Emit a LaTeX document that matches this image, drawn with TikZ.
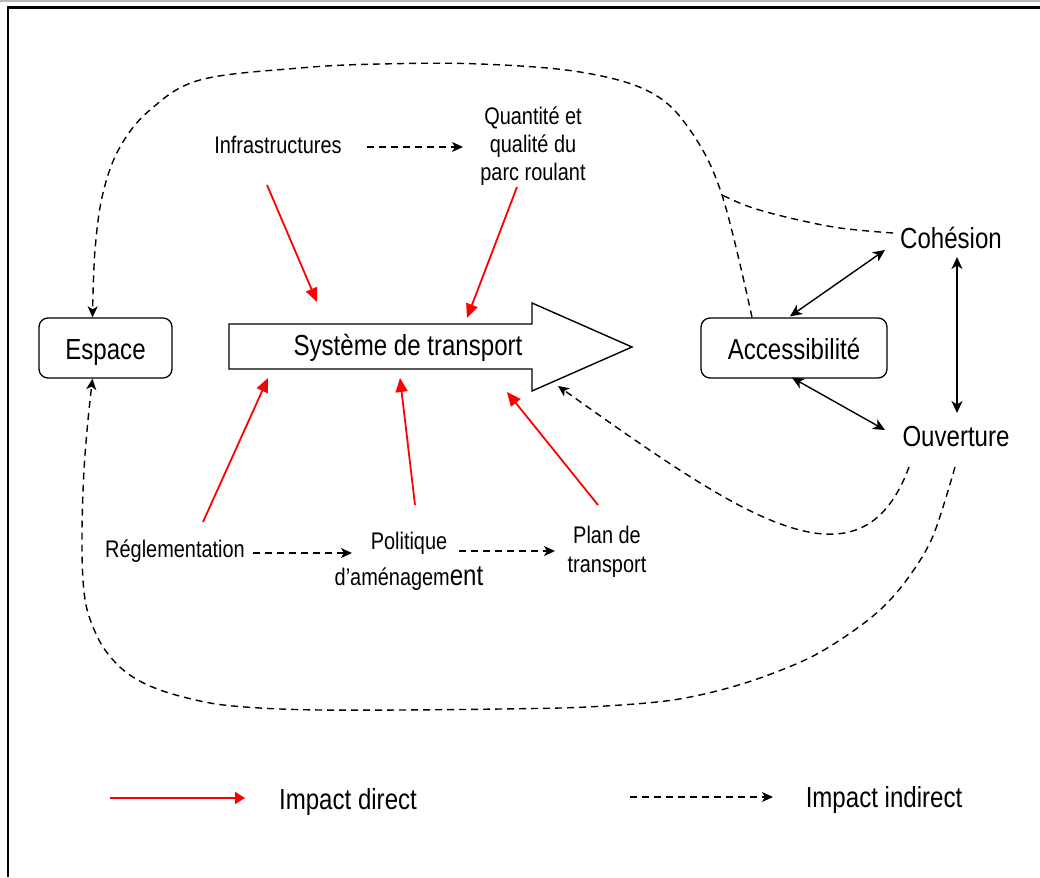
\documentclass[tikz,border=0pt]{standalone}
\usepackage{fontspec}
\newfontfamily\nar{Liberation Sans}[FakeStretch=0.83]
\usetikzlibrary{arrows.meta,calc}
\tikzset{
  big/.style={font=\nar\fontsize{29}{33}\selectfont, inner sep=2pt},
  small/.style={font=\nar\fontsize{24}{28}\selectfont, align=center, inner sep=2pt},
  boxed/.style={big, draw, line width=1.3pt, rounded corners=9pt, minimum height=60pt, text height=26pt, text depth=2.3pt},
  direct/.style={red, line width=1.8pt, -{Triangle[length=14pt,width=12pt]}},
  indirect/.style={black, line width=1.4pt, dash pattern=on 7pt off 5pt, -{Stealth[length=11pt,width=10pt,inset=3pt]}},
  indline/.style={black, line width=1.4pt, dash pattern=on 7pt off 5pt},
  both/.style={black, line width=1.4pt, {Stealth[length=12pt,width=11pt,inset=3.5pt]}-{Stealth[length=12pt,width=11pt,inset=3.5pt]}}
}
\begin{document}
\begin{tikzpicture}[x=1pt,y=-1pt]
\useasboundingbox (0,0) rectangle (1040,877);
% frame
\draw[gray!55, line width=1.6pt] (0,0.8) -- (1040,0.8);
\draw[black, line width=2.2pt] (7.8,877) -- (7.8,7.6) -- (1040,7.6);

% transport system arrow
\draw[line width=1.4pt, fill=white] (229,324) -- (532,324) -- (532,303) -- (632,347) -- (532,391) -- (532,369) -- (229,369) -- cycle;
\node[big] (sys) at (408,348) {Système de transport};

% nodes
\node[boxed, minimum width=133pt] (espace) at (105.5,348) {Espace};
\node[boxed, minimum width=186pt] (acc) at (794,348) {Accessibilité};
\node[big] (coh) at (951,237.5) {Cohésion};
\node[big] (ouv) at (956,437) {Ouverture};
\node[small] (infra) at (278,145) {Infrastructures};
\node[small] (quant) at (533,146) {Quantité et\\qualité du\\parc roulant};
\node[small] (regl) at (175,551) {Réglementation};
\node[small] (pol) at (409,561) {Politique\\[8pt]d’aménagem{\fontsize{29}{33}\selectfont ent}};
\node[small, font=\nar\fontsize{24}{29}\selectfont] (plan) at (607,551.5) {Plan de\\transport};

% direct impacts
\draw[direct] ($(infra)+(-11,40)$) -- ($(sys)+(-91,-46)$);
\draw[direct] ($(quant)+(-16,41)$) -- ($(sys)+(59,-30)$);
\draw[direct] ($(regl)+(28,-29)$) -- ($(sys)+(-140,30)$);
\draw[direct] ($(pol)+(6,-56)$) -- ($(sys)+(-8,30)$);
\draw[direct] ($(plan)+(-9,-46.5)$) -- ($(sys)+(99,44)$);

% indirect straight
\draw[indirect] ($(infra)+(89,2)$) -- ($(quant)+(-70,1)$);
\draw[indirect] ($(regl)+(78,2)$) -- ($(pol)+(-57,-8)$);
\draw[indirect] ($(pol)+(50,-10)$) -- ($(plan)+(-52,-0.5)$);

% double arrows
\draw[both] ($(acc.north)+(-4,-1)$) -- ($(coh)+(-66,12.5)$);
\draw[both] ($(acc.south)+(-2,-1)$) -- ($(ouv)+(-71,-7)$);
\draw[both] ($(coh)+(6,19.5)$) -- ($(ouv)+(1,-24)$);

% curved indirect
\coordinate (topS) at ($(acc.north)+(-42,0)$);
\coordinate (topE) at ($(espace.north)+(-13,0)$);
\coordinate (kink) at (722,195);
\coordinate (cohS) at ($(coh)+(-58,-4.5)$);
\coordinate (botS) at ($(ouv)+(-1,30)$);
\coordinate (botE) at ($(espace.south)+(-13,0)$);
\coordinate (midS) at ($(ouv)+(-47,30)$);
\coordinate (midE) at ($(sys)+(150,38)$);

\draw[indirect] plot[smooth, tension=0.6] coordinates {(topS) (kink) (690,130) (650,92) (580,72) (480,64) (380,64) (300,68) (200,80) (150,110) (120,147) (103,193) (95,250) (topE)};
\draw[indline] plot[smooth, tension=0.6] coordinates {(cohS) (840,228) (790,218) (750,207) (kink)};
\draw[indirect] plot[smooth, tension=0.55] coordinates {(botS) (933,536) (908,578) (881,609) (846,636) (805,660) (742,684) (673,700) (587,707) (500,709) (400,710) (320,710) (260,708) (210,703) (160,690) (127,673) (103,647) (88,613) (83,580) (82,530) (84,470) (88,420) (botE)};
\draw[indirect] (midS) .. controls (860,600) and (740,515) .. (midE);

% legend
\coordinate (la) at (110,798);
\coordinate (lb) at (245,798);
\coordinate (lc) at (630,797);
\coordinate (ld) at (773,797);
\node[big] (ldir) at (348,802) {Impact direct};
\node[big] (lind) at (884,800) {Impact indirect};
\draw[direct, -{Triangle[length=10pt,width=12pt]}] (la) -- (lb);
\draw[indirect] (lc) -- (ld);
\end{tikzpicture}
\end{document}
